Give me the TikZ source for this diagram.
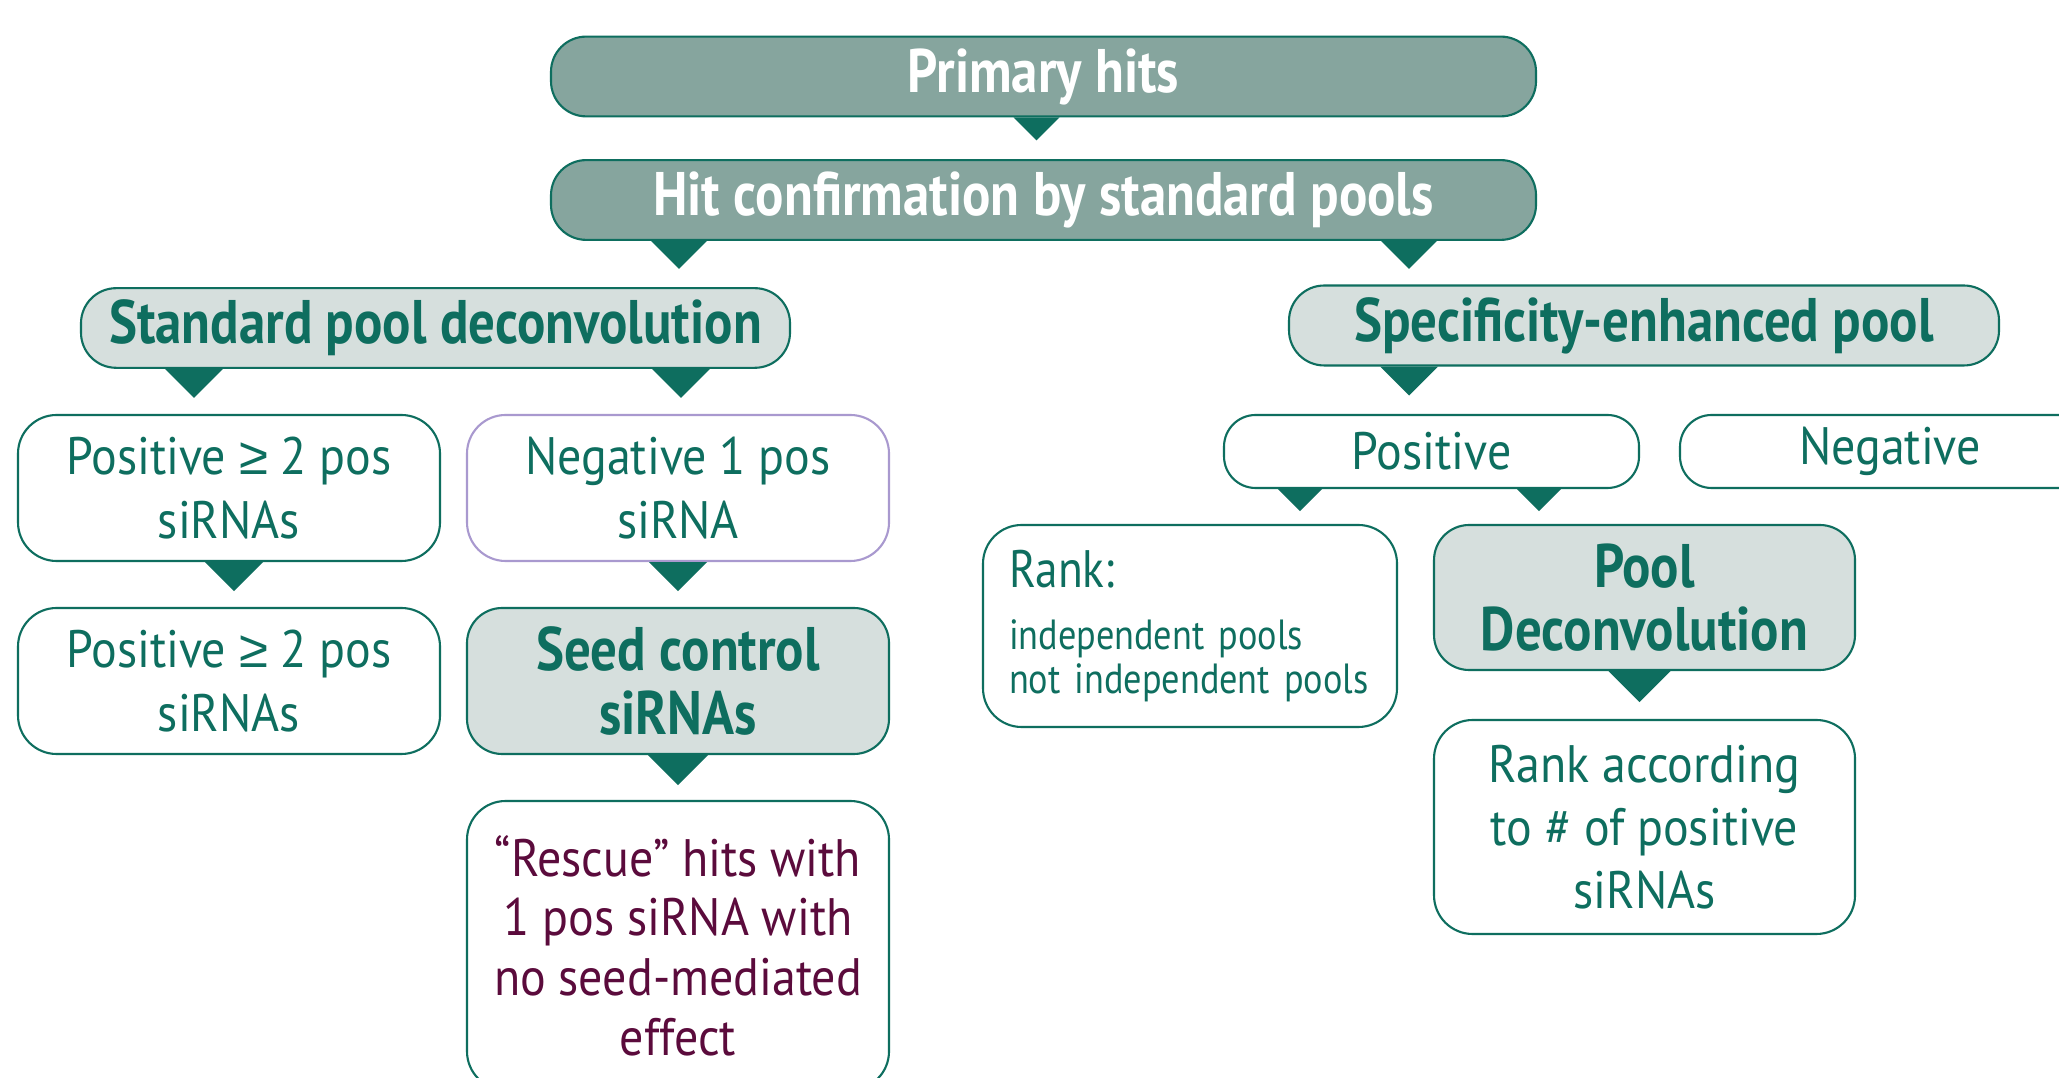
\documentclass[tikz,border=0pt]{standalone}
\usepackage{fontspec}
\setmainfont{PT Sans}[FakeStretch=0.91]
\newfontfamily\condfont{PT Sans}[FakeStretch=0.86]
\newfontfamily\symfont{Liberation Sans}
\usepackage{tikz}
\usetikzlibrary{positioning}
\definecolor{tealdark}{HTML}{0E6E5F}
\definecolor{tealgrey}{HTML}{86A59E}
\definecolor{tealpale}{HTML}{D6DFDD}
\definecolor{plumtext}{HTML}{5B0B3C}
\definecolor{lilacline}{HTML}{A999CF}
\tikzset{
    head-box/.style = {draw=tealdark, fill=tealgrey, semithick, rectangle, rounded corners=10pt, minimum width=9.85cm, minimum height=0.79cm, text=white, font=\condfont\bfseries\fontsize{17.5}{20}\selectfont},
    pale-box/.style = {draw=tealdark, fill=tealpale, semithick, rectangle, rounded corners=10pt, text=tealdark, font=\condfont\bfseries\fontsize{17.5}{18}\selectfont, align=center},
    plain-box/.style = {draw=tealdark, fill=white, semithick, rectangle, rounded corners=11pt, text=tealdark, font=\fontsize{15}{18}\selectfont, align=center},
    drop-tip/.style = {fill=tealdark},
}
\newcommand{\atleast}{{\symfont ≥}}
% little pointer under a box: node, shift, half width
\newcommand{\droptip}[3]{\fill[drop-tip] ([xshift=#2cm]#1.south) +(-#3,0) -- +(#3,0) -- +(0,-#3) -- cycle;}

\begin{document}
\begin{tikzpicture}
\useasboundingbox[fill=white] (0,0) rectangle (20.59,-10.78);
\node [head-box] (prim) at (10.435,-0.765) {Primary hits};
\node [head-box] (confirm) at (10.435,-2.0) {Hit confirmation by standard pools};
\node [pale-box, minimum width=7.09cm, minimum height=0.74cm] (stdpool) at (4.355,-3.28) {Standard pool deconvolution};
\node [pale-box, minimum width=7.10cm, minimum height=0.73cm] (specpool) at (16.44,-3.255) {Specificity-enhanced pool};

\node [plain-box, minimum width=4.22cm, minimum height=1.46cm] (posA) at (2.29,-4.88) {Positive \atleast\ 2 pos\\siRNAs};
\node [plain-box, draw=lilacline, minimum width=4.22cm, minimum height=1.46cm] (negA) at (6.78,-4.88) {Negative 1 pos\\siRNA};
\node [plain-box, minimum width=4.22cm, minimum height=1.46cm] (posB) at (2.29,-6.81) {Positive \atleast\ 2 pos\\siRNAs};
\node [pale-box, minimum width=4.22cm, minimum height=1.46cm] (seed) at (6.78,-6.81) {Seed control\\siRNAs};
\node [plain-box, minimum width=4.22cm, minimum height=2.89cm, text=plumtext, font=\fontsize{15}{17}\selectfont] (rescue) at (6.78,-9.455) {“Rescue” hits with\\1 pos siRNA with\\no seed-mediated\\effect};

\node [plain-box, minimum width=4.15cm, minimum height=0.73cm, rounded corners=9pt] (posR) at (14.315,-4.515) {Positive};
\node [plain-box, minimum width=4.2cm, minimum height=0.73cm, rounded corners=9pt] (negR) at (18.9,-4.515) {Negative};
\node [plain-box, minimum width=4.14cm, minimum height=2.02cm, align=left, text width=3.62cm, font=\condfont\fontsize{12}{12.5}\selectfont] (rank) at (11.9,-6.26) {{\fontsize{15}{12.5}\selectfont Rank:}\\[5pt]independent pools\\not independent pools};
\node [pale-box, minimum width=4.21cm, minimum height=1.45cm] (pooldec) at (16.445,-5.975) {Pool\\Deconvolution};
\node [plain-box, minimum width=4.21cm, minimum height=2.14cm] (rankpos) at (16.445,-8.27) {Rank according\\to \# of positive\\siRNAs};

\droptip{prim}{-0.07}{0.23}
\droptip{confirm}{-3.645}{0.28}
\droptip{confirm}{3.655}{0.28}
\droptip{stdpool}{-2.415}{0.29}
\droptip{stdpool}{2.455}{0.29}
\droptip{specpool}{-2.35}{0.29}
\droptip{posA}{0.05}{0.29}
\droptip{negA}{0}{0.29}
\droptip{seed}{0}{0.3}
\droptip{posR}{-1.315}{0.22}
\droptip{posR}{1.075}{0.22}
\droptip{pooldec}{-0.05}{0.31}
\end{tikzpicture}
\end{document}
